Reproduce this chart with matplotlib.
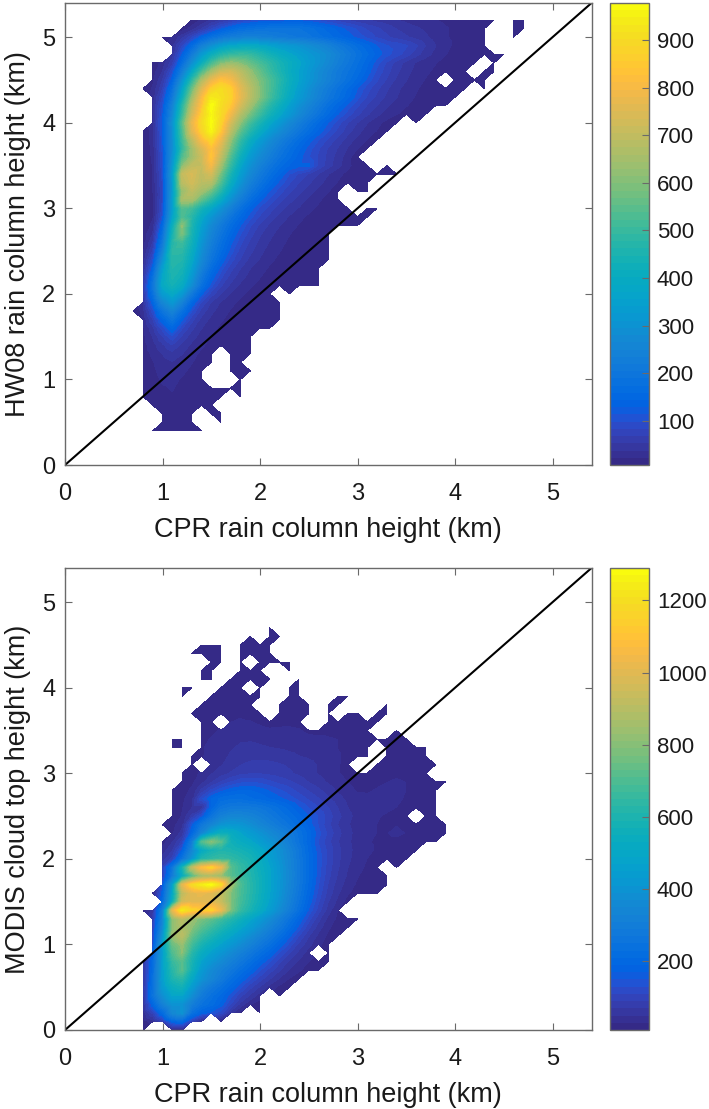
import numpy as np
import matplotlib
matplotlib.use('Agg')
import matplotlib.pyplot as plt
import matplotlib.tri as mtri
from matplotlib.cm import ScalarMappable
from matplotlib.colors import ListedColormap, Normalize

plt.rcParams['font.family'] = ['Liberation Sans', 'DejaVu Sans']

# Tick labels and axis text
axis_ticks = [0, 1, 2, 3, 4, 5]
top_cbar_ticks = [100, 200, 300, 400, 500, 600, 700, 800, 900]
bottom_cbar_ticks = [200, 400, 600, 800, 1000, 1200]
top_ylabel = 'HW08 rain column height (km)'
bottom_ylabel = 'MODIS cloud top height (km)'
xlabel = 'CPR rain column height (km)'

# Top panel: counts per row. Row height, x of first value, values every 0.1 km
hw08_y = [5.2, 5.1, 5.0, 4.9, 4.8, 4.7, 4.6, 4.5, 4.4, 4.3, 4.2, 4.1, 4.0, 3.9, 3.8, 3.7, 3.6, 3.5, 3.4, 3.3, 3.2, 3.1, 3.0, 2.9, 2.8,
          2.7, 2.6, 2.5, 2.4, 2.3, 2.2, 2.1, 2.0, 1.9, 1.8, 1.7, 1.6, 1.5, 1.4, 1.3, 1.2, 1.1, 1.0, 0.9, 0.8, 0.7, 0.6, 0.5, 0.4]
hw08_x0 = [1.3, 1.2, 1.0, 1.1, 1.1, 0.9, 0.9, 0.9, 0.8, 0.9, 0.9, 0.9, 0.9, 0.8, 0.8, 0.8, 0.8, 0.8, 0.8, 0.8, 0.8, 0.8, 0.8, 0.8, 0.8,
           0.8, 0.8, 0.8, 0.8, 0.8, 0.8, 0.8, 0.8, 0.8, 0.7, 0.8, 0.8, 0.8, 0.8, 0.8, 0.8, 0.8, 0.8, 0.8, 0.8, 0.9, 1.0, 1.0, 0.9]
hw08_counts = [
    [12, 25, 40, 55, 70, 85, 95, 105, 110, 110, 115, 115, 110, 100, 90, 80, 70, 60, 55, 50, 45, 40, 35, 30, 28, 24, 20, 16, 12, 10, 8, 8, 0, 8, 8],
    [12, 30, 55, 85, 115, 140, 160, 170, 180, 185, 185, 185, 185, 175, 160, 145, 130, 115, 100, 85, 75, 65, 55, 48, 42, 36, 30, 25, 20, 15, 10, 8, 0, 0, 8, 8],
    [8, 25, 50, 85, 130, 170, 200, 220, 235, 240, 235, 225, 215, 205, 200, 190, 175, 160, 145, 130, 115, 100, 85, 75, 65, 58, 50, 42, 32, 25, 20, 14, 10, 8, 0, 0, 8],
    [35, 85, 150, 230, 290, 340, 370, 380, 385, 375, 355, 335, 320, 305, 285, 265, 240, 210, 185, 160, 140, 120, 105, 100, 90, 75, 55, 40, 28, 20, 14, 10, 8],
    [45, 120, 210, 320, 400, 460, 490, 500, 490, 460, 425, 395, 370, 345, 320, 300, 275, 240, 210, 180, 155, 130, 110, 95, 80, 62, 46, 34, 24, 18, 14, 10, 8, 8, 8, 8],
    [10, 30, 65, 160, 280, 400, 510, 590, 620, 600, 560, 520, 480, 440, 405, 370, 335, 300, 265, 230, 200, 170, 140, 110, 85, 65, 50, 38, 30, 24, 18, 14, 10, 8, 0, 8],
    [15, 40, 100, 220, 370, 520, 640, 720, 730, 680, 620, 560, 500, 450, 400, 360, 320, 280, 245, 210, 185, 160, 130, 100, 78, 60, 45, 34, 26, 20, 15, 12, 8, 0, 8, 8],
    [20, 55, 130, 290, 470, 650, 770, 830, 800, 720, 650, 590, 530, 470, 410, 360, 315, 275, 240, 205, 175, 145, 115, 90, 70, 52, 40, 30, 22, 16, 0, 8, 10, 8, 8],
    [8, 25, 70, 170, 350, 560, 740, 860, 900, 860, 760, 680, 600, 530, 460, 400, 345, 295, 250, 215, 180, 150, 120, 95, 75, 58, 44, 33, 25, 18, 14, 10, 8, 8, 0, 8],
    [30, 90, 200, 400, 620, 800, 930, 910, 870, 770, 680, 600, 520, 450, 385, 330, 285, 240, 200, 170, 140, 110, 85, 68, 52, 40, 30, 22, 16, 12, 10, 8],
    [35, 105, 240, 460, 680, 830, 975, 900, 840, 730, 640, 550, 470, 410, 350, 295, 250, 210, 170, 140, 115, 90, 70, 55, 42, 32, 24, 18, 13, 10, 8],
    [35, 115, 260, 490, 720, 860, 960, 890, 790, 670, 580, 500, 430, 375, 320, 270, 225, 185, 150, 120, 95, 75, 58, 44, 32, 24, 18, 13, 10],
    [35, 125, 290, 540, 770, 890, 970, 870, 730, 610, 510, 440, 375, 320, 270, 225, 185, 150, 120, 95, 72, 55, 40, 28, 18, 10, 0, 8],
    [8, 30, 120, 280, 520, 750, 870, 960, 840, 680, 550, 460, 390, 330, 280, 235, 195, 160, 130, 105, 82, 62, 45, 32, 22, 14, 0, 8],
    [8, 30, 115, 280, 500, 680, 810, 880, 780, 620, 490, 400, 335, 280, 235, 195, 160, 130, 105, 84, 65, 48, 34, 22, 12],
    [8, 28, 110, 280, 480, 630, 740, 830, 730, 580, 450, 360, 300, 250, 205, 170, 140, 112, 90, 70, 54, 38, 24, 10],
    [8, 26, 105, 290, 530, 630, 710, 840, 690, 530, 410, 325, 270, 225, 185, 155, 128, 105, 85, 66, 48, 30, 10],
    [8, 24, 100, 310, 600, 690, 700, 800, 640, 490, 370, 295, 240, 195, 160, 135, 125, 125, 85, 62, 45, 28, 14, 8, 0, 8],
    [8, 24, 95, 330, 700, 740, 690, 730, 580, 440, 340, 265, 210, 170, 135, 105, 85, 70, 55, 40, 28, 18, 12, 8, 8, 8, 8],
    [8, 24, 90, 320, 680, 730, 680, 670, 530, 400, 305, 235, 185, 145, 115, 90, 72, 58, 45, 32, 22, 14, 10, 8],
    [8, 22, 85, 320, 620, 690, 640, 570, 460, 350, 265, 200, 155, 120, 95, 75, 60, 46, 34, 24, 14, 0, 8, 8],
    [8, 20, 90, 330, 650, 650, 550, 470, 380, 295, 220, 165, 125, 98, 78, 62, 48, 36, 26, 16, 8],
    [8, 20, 95, 330, 540, 510, 430, 370, 300, 235, 175, 130, 100, 80, 62, 48, 38, 28, 20, 12, 8, 8, 0, 8, 8],
    [8, 20, 110, 350, 530, 470, 380, 310, 250, 190, 145, 110, 85, 66, 50, 38, 28, 20, 14, 10, 8, 8, 8, 8],
    [10, 28, 140, 400, 610, 450, 350, 270, 210, 160, 120, 90, 68, 52, 40, 30, 22, 14, 10, 8, 8, 8, 8],
    [12, 40, 170, 430, 590, 440, 330, 250, 190, 140, 105, 78, 58, 44, 33, 24, 17, 11, 8, 8],
    [15, 55, 200, 460, 510, 420, 310, 230, 170, 125, 92, 68, 50, 38, 28, 20, 13, 9, 8, 8],
    [20, 75, 240, 480, 480, 400, 290, 210, 155, 112, 80, 60, 44, 32, 24, 16, 11, 8, 8, 8],
    [28, 100, 290, 470, 460, 380, 270, 190, 135, 96, 70, 50, 38, 27, 19, 13, 9, 8, 8, 8],
    [35, 130, 340, 460, 440, 350, 240, 160, 112, 78, 56, 40, 30, 21, 15, 10, 8, 8, 8],
    [45, 165, 370, 450, 420, 320, 205, 135, 92, 64, 46, 33, 24, 17, 12, 8, 8, 8, 8],
    [50, 190, 380, 430, 390, 285, 175, 110, 74, 52, 36, 26, 18, 13, 9, 8, 8, 8, 8],
    [45, 170, 330, 380, 320, 205, 125, 80, 55, 38, 27, 19, 13, 9, 0, 8],
    [40, 130, 260, 320, 240, 140, 85, 55, 38, 27, 20, 15, 11, 9, 8],
    [8, 30, 95, 190, 250, 175, 105, 65, 44, 30, 22, 16, 12, 10, 8, 8],
    [25, 70, 135, 190, 125, 78, 50, 35, 25, 18, 13, 10, 9, 8, 8],
    [20, 50, 95, 140, 90, 60, 40, 28, 20, 15, 11, 9, 8, 8],
    [18, 40, 70, 100, 68, 46, 32, 22, 16, 12, 9, 8],
    [16, 32, 52, 70, 50, 36, 26, 18, 13, 10, 8, 8],
    [15, 26, 40, 50, 40, 28, 20, 14, 0, 9, 8, 8],
    [14, 22, 32, 38, 32, 24, 16, 10, 0, 8, 8],
    [13, 20, 28, 30, 26, 20, 13, 0, 0, 8, 8, 8],
    [12, 18, 25, 26, 22, 16, 10, 0, 0, 0, 8],
    [11, 16, 22, 24, 20, 14, 10, 8, 8, 8, 8],
    [10, 14, 20, 22, 17, 12, 9, 8, 8, 0, 8],
    [12, 16, 18, 15, 10, 8, 8],
    [14, 14, 12, 8, 0, 8, 8],
    [12, 12, 10, 8, 0, 0, 8],
    [8, 10, 10, 10, 8, 8],
]

# Bottom panel, same layout
modis_y = [4.7, 4.6, 4.5, 4.4, 4.3, 4.2, 4.1, 4.0, 3.9, 3.8, 3.7, 3.6, 3.5, 3.4, 3.3, 3.2, 3.1, 3.0, 2.9, 2.8, 2.7, 2.6, 2.5, 2.4,
           2.3, 2.2, 2.1, 2.0, 1.9, 1.8, 1.7, 1.6, 1.5, 1.4, 1.3, 1.2, 1.1, 1.0, 0.9, 0.8, 0.7, 0.6, 0.5, 0.4, 0.3, 0.2, 0.1, 0.0]
modis_x0 = [2.1, 1.9, 1.4, 1.3, 1.5, 1.4, 1.4, 1.2, 1.2, 1.4, 1.3, 1.4, 1.4, 1.1, 1.1, 1.3, 1.3, 1.2, 1.2, 1.1, 1.1, 1.1, 1.1, 1.0,
            1.1, 1.0, 1.0, 1.0, 1.0, 1.0, 1.0, 0.9, 1.0, 0.8, 0.9, 0.9, 0.9, 0.9, 0.9, 0.8, 0.8, 0.8, 0.8, 0.8, 0.8, 0.8, 0.8, 0.8]
modis_counts = [
    [14],
    [14, 0, 14, 14],
    [14, 14, 14, 0, 14, 14, 14, 14],
    [14, 16, 16, 14, 0, 14, 14, 14, 14],
    [14, 14, 0, 14, 0, 14, 14, 14, 14],
    [14, 14, 0, 0, 14, 14, 14, 0, 0, 14],
    [14, 14, 0, 14, 14, 14, 14, 14, 0, 0, 14],
    [14, 14, 0, 0, 14, 16, 16, 0, 14, 0, 0, 14, 14],
    [14, 0, 0, 14, 18, 20, 20, 16, 14, 0, 0, 14, 14, 0, 0, 0, 14, 14],
    [14, 20, 24, 24, 20, 14, 0, 0, 14, 16, 18, 14, 0, 14, 14, 0, 0, 0, 0, 14],
    [14, 18, 24, 26, 28, 26, 20, 14, 0, 14, 18, 18, 14, 0, 14, 0, 14, 14, 0, 14, 14],
    [16, 22, 0, 30, 34, 32, 26, 20, 24, 26, 24, 0, 0, 18, 14, 18, 16, 14, 14],
    [20, 26, 32, 38, 42, 42, 38, 34, 34, 34, 32, 26, 24, 26, 24, 22, 16, 14, 0, 0, 14],
    [14, 14, 0, 24, 32, 40, 46, 50, 50, 48, 46, 44, 42, 40, 36, 34, 32, 30, 26, 20, 16, 14, 14, 14, 14],
    [14, 14, 0, 28, 36, 44, 50, 54, 56, 54, 52, 50, 48, 46, 42, 38, 34, 30, 26, 20, 14, 0, 16, 18, 16, 14, 14],
    [14, 28, 38, 46, 54, 60, 64, 66, 64, 60, 56, 52, 48, 44, 38, 32, 26, 18, 14, 0, 18, 22, 20, 16, 14],
    [14, 0, 40, 50, 62, 72, 80, 82, 80, 75, 70, 65, 58, 50, 42, 32, 22, 0, 0, 16, 20, 24, 22, 20, 16, 14],
    [14, 22, 34, 50, 62, 75, 88, 92, 92, 88, 82, 76, 68, 60, 50, 42, 32, 24, 18, 18, 20, 24, 28, 26, 22, 14],
    [16, 26, 44, 70, 95, 115, 130, 135, 130, 120, 108, 98, 85, 72, 60, 48, 38, 30, 24, 24, 26, 30, 32, 30, 26, 20, 16, 14],
    [14, 22, 34, 78, 120, 150, 170, 180, 180, 170, 155, 140, 125, 108, 92, 78, 62, 48, 36, 28, 28, 32, 34, 34, 30, 26, 20, 14],
    [16, 26, 44, 130, 180, 210, 220, 220, 205, 195, 180, 165, 148, 130, 112, 96, 78, 60, 46, 36, 34, 36, 36, 34, 28, 26, 20, 16],
    [16, 28, 50, 55, 180, 250, 270, 275, 270, 260, 240, 215, 190, 160, 135, 115, 95, 72, 52, 40, 36, 36, 34, 30, 24, 20, 16, 14],
    [16, 32, 80, 140, 240, 310, 340, 340, 325, 300, 270, 240, 215, 185, 160, 135, 105, 80, 58, 44, 36, 32, 28, 26, 16, 0, 14, 14],
    [14, 22, 44, 150, 260, 330, 400, 420, 410, 380, 340, 305, 270, 240, 205, 170, 135, 100, 72, 54, 42, 34, 30, 28, 30, 28, 22, 18, 16, 14],
    [28, 60, 180, 330, 470, 540, 520, 480, 440, 400, 360, 320, 280, 235, 190, 145, 110, 80, 58, 44, 34, 30, 30, 32, 30, 26, 20, 18, 14],
    [20, 50, 100, 280, 700, 800, 720, 560, 520, 490, 445, 400, 355, 300, 240, 185, 135, 100, 74, 56, 42, 32, 28, 28, 28, 26, 22, 18, 14],
    [40, 70, 160, 330, 500, 570, 600, 590, 570, 545, 500, 445, 390, 325, 260, 195, 145, 108, 78, 58, 44, 34, 28, 24, 22, 20, 16],
    [60, 100, 240, 400, 600, 640, 660, 640, 610, 580, 525, 460, 400, 335, 265, 200, 150, 108, 78, 56, 42, 30, 24, 20, 18, 14],
    [100, 250, 560, 900, 1080, 1150, 1040, 720, 650, 600, 540, 480, 415, 340, 270, 200, 148, 105, 75, 52, 38, 26, 16, 0, 14],
    [100, 280, 500, 700, 830, 860, 820, 720, 660, 610, 550, 485, 420, 345, 270, 200, 145, 100, 70, 48, 32, 20, 14, 14],
    [150, 450, 1000, 1170, 1240, 1285, 1180, 850, 700, 620, 555, 485, 415, 340, 265, 195, 138, 92, 62, 42, 26, 18, 14, 14],
    [14, 170, 480, 900, 1000, 1020, 1000, 920, 790, 690, 620, 550, 480, 410, 330, 255, 185, 130, 85, 55, 34, 18, 14, 14],
    [200, 520, 950, 1000, 1000, 1000, 930, 790, 680, 610, 540, 470, 395, 315, 240, 172, 118, 74, 45, 20],
    [14, 60, 300, 1000, 1230, 1150, 1120, 1150, 1030, 780, 650, 580, 515, 445, 370, 295, 222, 155, 105, 62, 30],
    [80, 320, 800, 900, 830, 780, 730, 670, 610, 550, 490, 430, 370, 305, 240, 180, 125, 80, 45, 25, 16, 14],
    [100, 350, 800, 870, 800, 720, 660, 600, 545, 490, 440, 380, 320, 265, 205, 150, 100, 62, 34, 20, 14],
    [115, 400, 820, 900, 740, 650, 590, 530, 480, 430, 375, 320, 270, 220, 165, 115, 75, 46, 26, 14],
    [130, 450, 750, 820, 680, 580, 520, 470, 420, 370, 320, 270, 225, 175, 130, 88, 58, 36, 16],
    [170, 440, 700, 800, 620, 520, 460, 410, 360, 310, 265, 220, 180, 135, 95, 65, 42, 0, 14],
    [60, 200, 450, 650, 720, 580, 470, 410, 360, 310, 265, 220, 175, 140, 100, 70, 48, 30, 20, 14],
    [60, 210, 450, 620, 720, 560, 430, 360, 310, 265, 220, 180, 140, 105, 75, 50, 34, 20, 14],
    [60, 220, 450, 590, 630, 500, 400, 340, 280, 225, 180, 140, 105, 75, 50, 30, 16],
    [60, 235, 430, 530, 560, 440, 330, 270, 230, 185, 140, 100, 70, 42, 24, 14],
    [55, 240, 380, 480, 480, 380, 280, 230, 190, 145, 100, 68, 40, 0, 14],
    [45, 180, 310, 400, 400, 300, 240, 210, 170, 115, 65, 32, 18],
    [35, 100, 200, 350, 400, 230, 170, 150, 125, 60, 22, 0, 14],
    [16, 40, 90, 180, 200, 100, 30, 0, 18],
    [14, 0, 0, 30, 30],
]

# MATLAB parula
parula = ListedColormap([
    (.2081, .1663, .5292), (.2116, .1898, .5777), (.2123, .2138, .6270), (.2081, .2386, .6771),
    (.1959, .2645, .7279), (.1707, .2919, .7792), (.1253, .3242, .8303), (.0591, .3598, .8683),
    (.0117, .3875, .8820), (.0060, .4086, .8828), (.0165, .4266, .8786), (.0329, .4430, .8720),
    (.0498, .4586, .8641), (.0629, .4737, .8554), (.0723, .4887, .8467), (.0779, .5040, .8384),
    (.0793, .5200, .8312), (.0749, .5375, .8263), (.0641, .5570, .8240), (.0488, .5772, .8228),
    (.0343, .5966, .8199), (.0265, .6137, .8135), (.0239, .6287, .8038), (.0231, .6418, .7913),
    (.0228, .6535, .7768), (.0267, .6642, .7607), (.0384, .6743, .7436), (.0590, .6838, .7254),
    (.0843, .6928, .7062), (.1133, .7015, .6859), (.1453, .7098, .6646), (.1801, .7177, .6424),
    (.2178, .7250, .6193), (.2586, .7317, .5954), (.3022, .7376, .5712), (.3482, .7424, .5473),
    (.3953, .7459, .5244), (.4420, .7481, .5033), (.4871, .7491, .4840), (.5300, .7491, .4661),
    (.5709, .7485, .4494), (.6099, .7473, .4337), (.6473, .7456, .4188), (.6834, .7435, .4044),
    (.7184, .7411, .3905), (.7525, .7384, .3768), (.7858, .7356, .3633), (.8185, .7327, .3498),
    (.8507, .7299, .3360), (.8824, .7274, .3217), (.9139, .7258, .3063), (.9450, .7261, .2886),
    (.9739, .7314, .2666), (.9938, .7455, .2403), (.9990, .7653, .2164), (.9955, .7861, .1967),
    (.9880, .8066, .1794), (.9789, .8271, .1633), (.9697, .8481, .1475), (.9626, .8705, .1309),
    (.9589, .8949, .1132), (.9598, .9218, .0948), (.9661, .9514, .0755), (.9763, .9831, .0538),
])

W, H = 709, 1109
GREY = '#6a6a6a'
TEXT = '#1a1a1a'


def make_grid(y_values, x_starts, rows):
    # Pad the rows with zeros into one regular 0.1 km grid (0 = no data)
    grid = np.zeros((54, 44))
    for y, x0, row in zip(y_values, x_starts, rows):
        i = int(round(y * 10))
        j = int(round(x0 * 10)) - 6
        grid[i, j:j + len(row)] = row
    return grid


def triangles_of(grid):
    # A cell with one empty corner keeps the triangle of the other three, as contourf does around NaNs
    ny, nx = grid.shape
    idx = lambda i, j: i * nx + j
    tris = []
    for i in range(ny - 1):
        for j in range(nx - 1):
            corners = [(i, j), (i, j + 1), (i + 1, j + 1), (i + 1, j)]
            valid = [c for c in corners if grid[c] > 0]
            if len(valid) == 4:
                tris.append([idx(i, j), idx(i, j + 1), idx(i + 1, j + 1)])
                tris.append([idx(i, j), idx(i + 1, j + 1), idx(i + 1, j)])
            elif len(valid) == 3:
                tris.append([idx(*c) for c in valid])
    return tris


def draw_panel(top_px, bottom_px, y_values, x_starts, rows, vmin, vmax, cbar_ticks, ylabel):
    ax = fig.add_axes([65 / W, 1 - bottom_px / H, (591.5 - 65) / W, (bottom_px - top_px) / H])
    cax = fig.add_axes([610 / W, 1 - bottom_px / H, (648.5 - 610) / W, (bottom_px - top_px) / H])
    grid = make_grid(y_values, x_starts, rows)
    xs, ys = np.meshgrid(np.arange(44) * 0.1 + 0.6, np.arange(54) * 0.1)
    tri = mtri.Triangulation(xs.ravel(), ys.ravel(), triangles_of(grid))
    norm = Normalize(vmin, vmax)
    levels = np.linspace(vmin, vmax, 61)
    ax.tricontourf(tri, grid.ravel(), levels=levels, cmap=parula, norm=norm)
    ax.plot([0, 5.4], [0, 5.4], color='k', lw=1.5)
    ax.set_xlim(0, 5.4)
    ax.set_ylim(0, 5.4)
    ax.set_xticks(axis_ticks)
    ax.set_yticks(axis_ticks)
    ax.tick_params(direction='in', top=True, right=True, length=5, width=0.8, color=GREY,
                   labelsize=17, labelcolor=TEXT)
    ax.tick_params(axis='x', pad=13)
    ax.tick_params(axis='y', pad=7)
    ax.set_xlabel(xlabel, fontsize=19.5, color=TEXT, va='center')
    ax.set_ylabel(ylabel, fontsize=19.5, color=TEXT, va='center')
    ax.xaxis.set_label_coords(0.5, -65 / (bottom_px - top_px))
    ax.yaxis.set_label_coords(-47 / 526.5, 0.5)
    for s in ax.spines.values():
        s.set_color(GREY)
        s.set_linewidth(1.0)

    cb = fig.colorbar(ScalarMappable(norm=norm, cmap=parula), cax=cax)
    cb.set_ticks(cbar_ticks)
    cb.ax.tick_params(direction='in', length=5, width=0.8, color=GREY, labelsize=16,
                      labelcolor=TEXT, pad=6)
    cb.outline.set_edgecolor(GREY)
    cb.outline.set_linewidth(1.0)


fig = plt.figure(figsize=(W / 100, H / 100), dpi=100)
draw_panel(3, 465, hw08_y, hw08_x0, hw08_counts, 7, 978, top_cbar_ticks, top_ylabel)
draw_panel(568, 1030, modis_y, modis_x0, modis_counts, 9, 1290, bottom_cbar_ticks, bottom_ylabel)
fig.savefig('out.png', dpi=100)
